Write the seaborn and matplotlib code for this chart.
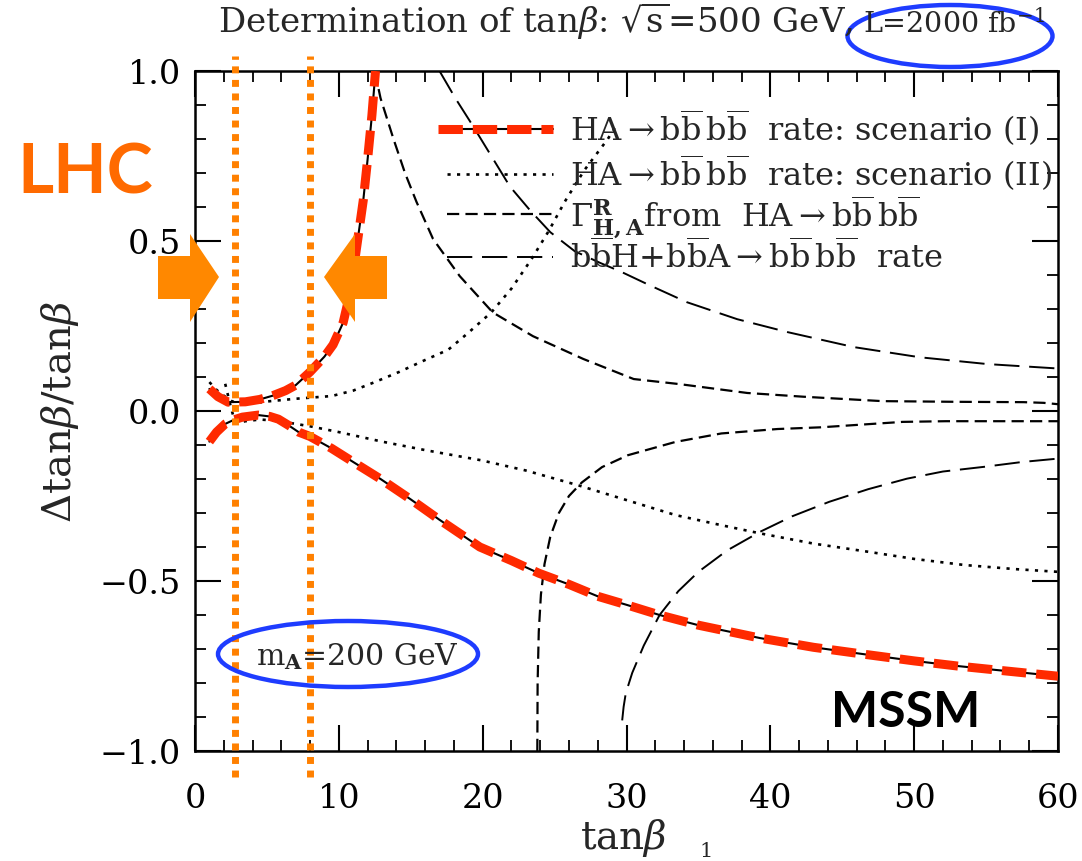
import numpy as np
import matplotlib
matplotlib.use("Agg")
import matplotlib.pyplot as plt
from matplotlib.patches import Polygon, Ellipse
from matplotlib.lines import Line2D
import seaborn as sns

# ---- curves: relative error on tan(beta) versus tan(beta) ----
# HA -> bb bb rate, scenario (I): upper and lower branch
tanb_I_up = [1.0, 1.6, 2.3, 3.5, 4.5, 5.4, 6.3, 7.0, 8.0, 9.0, 9.6, 10.3, 10.8, 11.3, 11.7, 12.0, 12.3, 12.55]
dtb_I_up = [0.065, 0.042, 0.026, 0.027, 0.034, 0.045, 0.06, 0.076, 0.115, 0.16, 0.195, 0.26, 0.35, 0.50, 0.62, 0.74, 0.87, 1.0]
tanb_I_lo = [1.0, 1.5, 2.1, 2.7, 3.3, 4.4, 5.2, 5.8, 6.5, 7.2, 8.0, 9.5, 11.0, 12.9, 15.0, 17.0, 19.8, 22.0,
             23.9, 26.0, 28.0, 30.0, 32.3, 35.0, 39.3, 43.0, 46.8, 50.0, 53.0, 56.0, 60.0]
dtb_I_lo = [-0.09, -0.062, -0.038, -0.026, -0.018, -0.012, -0.016, -0.024, -0.042, -0.062, -0.075, -0.11, -0.15,
            -0.20, -0.26, -0.32, -0.40, -0.44, -0.477, -0.51, -0.545, -0.57, -0.60, -0.63, -0.668, -0.695,
            -0.717, -0.735, -0.75, -0.763, -0.78]

# HA -> bb bb rate, scenario (II)
tanb_II_up = [1.0, 1.5, 2.0, 2.5, 3.0, 4.0, 5.0, 7.0, 9.5, 11.0, 12.5, 14.2, 16.0, 17.6, 19.0, 20.6, 22.0,
              23.4, 24.6, 25.7, 26.5, 27.1, 27.9, 28.7, 29.3]
dtb_II_up = [0.085, 0.062, 0.045, 0.03, 0.022, 0.022, 0.028, 0.036, 0.044, 0.06, 0.085, 0.115, 0.15, 0.18,
             0.23, 0.29, 0.36, 0.447, 0.53, 0.615, 0.67, 0.71, 0.755, 0.80, 0.84]
tanb_II_lo = [2.1, 2.3, 2.5, 2.7, 3.0, 3.5, 4.5, 5.5, 6.6, 8.0, 10.0, 13.0, 16.0, 19.9, 23.0, 26.6, 30.0,
              33.4, 36.5, 39.3, 43.0, 46.8, 50.0, 53.5, 57.0, 60.0]
dtb_II_lo = [0.08, 0.045, 0.01, -0.02, -0.035, -0.03, -0.025, -0.028, -0.035, -0.045, -0.062, -0.09, -0.115,
             -0.145, -0.175, -0.218, -0.262, -0.306, -0.335, -0.36, -0.39, -0.414, -0.435, -0.453, -0.465, -0.473]

# Gamma^R_{H,A} from HA -> bb bb
tanb_G_up = [12.5, 12.9, 13.8, 14.6, 15.4, 16.55, 18.4, 20.7, 23.5, 27.0, 30.5, 33.7, 38.4, 42.3, 47.8, 53.0,
             57.6, 59.0, 60.0]
dtb_G_up = [1.0, 0.92, 0.80, 0.70, 0.615, 0.506, 0.397, 0.29, 0.22, 0.153, 0.094, 0.079, 0.053, 0.042, 0.029,
            0.027, 0.026, 0.024, 0.02]
tanb_G_lo = [23.8, 23.82, 23.9, 24.05, 24.3, 24.7, 25.3, 26.0, 26.9, 28.3, 30.1, 33.4, 36.6, 40.5, 43.5,
             49.2, 52.2, 60.0]
dtb_G_lo = [-1.0, -0.8, -0.65, -0.54, -0.45, -0.37, -0.30, -0.25, -0.21, -0.165, -0.13, -0.091, -0.066,
            -0.053, -0.048, -0.032, -0.03, -0.03]

# bbH + bbA -> bb bb rate
tanb_bb_up = [17.0, 18.1, 19.3, 20.6, 21.9, 23.3, 24.7, 26.4, 28.2, 29.6, 31.6, 34.2, 37.7, 41.2, 45.8, 50.4,
              55.1, 60.0]
dtb_bb_up = [1.0, 0.92, 0.84, 0.75, 0.66, 0.59, 0.526, 0.47, 0.435, 0.41, 0.37, 0.32, 0.27, 0.232, 0.188,
             0.158, 0.138, 0.125]
tanb_bb_lo = [29.7, 29.8, 29.95, 30.4, 31.2, 32.3, 33.6, 35.0, 37.0, 39.3, 41.5, 44.1, 46.8, 49.5, 52.0, 54.9,
              57.5, 60.0]
dtb_bb_lo = [-0.91, -0.87, -0.83, -0.77, -0.69, -0.60, -0.53, -0.473, -0.41, -0.355, -0.31, -0.267, -0.23,
             -0.199, -0.178, -0.164, -0.15, -0.14]

# LHC reach in tan(beta)
lhc_bounds = [2.8, 8.0]

x_ticks = [0, 10, 20, 30, 40, 50, 60]
y_ticks = [-1.0, -0.5, 0.0, 0.5, 1.0]

legend_labels = [
    r"HA$\rightarrow$b$\overline{\mathrm{b}}\,$b$\overline{\mathrm{b}}$  rate: scenario (I)",
    r"HA$\rightarrow$b$\overline{\mathrm{b}}\,$b$\overline{\mathrm{b}}$  rate: scenario (II)",
    r"$\Gamma^{\mathbf{R}}_{\mathbf{H,A}}$from  HA$\rightarrow$b$\overline{\mathrm{b}}\,$b$\overline{\mathrm{b}}$",
    r"b$\overline{\mathrm{b}}$H+b$\overline{\mathrm{b}}$A$\rightarrow$b$\overline{\mathrm{b}}\,$b$\overline{\mathrm{b}}$  rate",
]

# ---- style ----
sns.set_theme(style="ticks")
plt.rcParams["font.family"] = ["DejaVu Serif"]
plt.rcParams["mathtext.fontset"] = "dejavuserif"
plt.rcParams["axes.linewidth"] = 1.8

W, H = 1082, 862
fig = plt.figure(figsize=(W / 100, H / 100), dpi=100)
fig.patch.set_facecolor("white")
ax = fig.add_axes([195 / W, 1 - 752 / H, (1058 - 195) / W, (752 - 72) / H])
ax.set_facecolor("white")


def px(x, y):
    """pixel position (top-left origin) -> figure fraction"""
    return (x / W, 1 - y / H)


RED = "#ff2a00"
ORANGE = "#ff8000"
BLUE = "#1e3cff"

dotted = (0, (1.2, 2.4))
short_dash = (0, (5.5, 2.8))
long_dash = (0, (13, 5))
red_dash = (0, (2.7, 1.1))

# scenario (I): black solid with red dashed overlay
for xs, ys in [(tanb_I_up, dtb_I_up), (tanb_I_lo, dtb_I_lo)]:
    sns.lineplot(x=xs, y=ys, sort=False, estimator=None, color="black", lw=1.5, ax=ax)
    sns.lineplot(x=xs, y=ys, sort=False, estimator=None, color=RED, lw=6.5, ls=red_dash,
                 dash_capstyle="butt", ax=ax, zorder=4)
# scenario (II)
for xs, ys in [(tanb_II_up, dtb_II_up), (tanb_II_lo, dtb_II_lo)]:
    sns.lineplot(x=xs, y=ys, sort=False, estimator=None, color="black", lw=1.9, ls=dotted, ax=ax)
# width from HA -> bbbb
for xs, ys in [(tanb_G_up, dtb_G_up), (tanb_G_lo, dtb_G_lo)]:
    sns.lineplot(x=xs, y=ys, sort=False, estimator=None, color="black", lw=1.6, ls=short_dash, ax=ax)
# bbH + bbA rate
for xs, ys in [(tanb_bb_up, dtb_bb_up), (tanb_bb_lo, dtb_bb_lo)]:
    sns.lineplot(x=xs, y=ys, sort=False, estimator=None, color="black", lw=1.4, ls=long_dash, ax=ax)

# LHC sensitivity bounds
for xb in lhc_bounds:
    ax.axvline(xb, ymin=-0.038, ymax=1.022, clip_on=False, color=ORANGE, lw=5,
               ls=(0, (1.0, 0.95)), dash_capstyle="butt", zorder=5)

ax.set_xlim(0, 60)
ax.set_ylim(-1.0, 1.0)
ax.set_xticks(x_ticks)
ax.set_yticks(y_ticks)
ax.set_xticklabels([str(v) for v in x_ticks])
ax.set_yticklabels([f"{v:.1f}".replace("-", "\u2212") for v in y_ticks])
ax.xaxis.set_minor_locator(matplotlib.ticker.MultipleLocator(2))
ax.yaxis.set_minor_locator(matplotlib.ticker.MultipleLocator(0.1))
ax.tick_params(which="both", direction="in", top=True, right=True, colors="black")
ax.tick_params(which="major", length=19, width=1.5, labelsize=24)
ax.tick_params(which="minor", length=8, width=1.3)
ax.tick_params(axis="x", which="major", pad=22)
ax.tick_params(axis="y", which="major", pad=10)
for s in ax.spines.values():
    s.set_color("black")
    s.set_linewidth(1.8)
ax.set_xlabel("")
ax.set_ylabel("")

# axis titles
fig.text(*px(623, 838), r"tan$\beta$", fontsize=28, ha="center", va="center")
fig.text(*px(60, 412), r"$\Delta$tan$\beta$/tan$\beta$", fontsize=29, ha="center", va="center", rotation=90)
fig.text(*px(706, 861), "1", fontsize=15, ha="center", va="bottom")

# title, in two pieces so the luminosity sits inside its ellipse
fig.text(*px(853, 33), r"Determination of tan$\beta$: $\sqrt{\mathrm{s}}$=500 GeV,",
         fontsize=24.5, ha="right", va="baseline")
fig.text(*px(863, 33), r"L=2000 fb$^{-1}$", fontsize=20.5, ha="left", va="baseline")

# legend
rows = [130, 175, 215, 258]
for i, (yr, lab) in enumerate(zip(rows, legend_labels)):
    x0, y0 = px(447, yr)
    x1, _ = px(553, yr)
    if i == 0:
        fig.add_artist(Line2D([x0, x1], [y0, y0], color="black", lw=1.5, transform=fig.transFigure))
        fig.add_artist(Line2D([x0 - 0.008, x1], [y0, y0], color=RED, lw=6.5, ls=red_dash,
                              dash_capstyle="butt", transform=fig.transFigure))
    elif i == 1:
        fig.add_artist(Line2D([x0, x1], [y0, y0], color="black", lw=1.9, ls=dotted, transform=fig.transFigure))
    elif i == 2:
        fig.add_artist(Line2D([x0, x1], [y0, y0], color="black", lw=1.6, ls=short_dash, transform=fig.transFigure))
    else:
        fig.add_artist(Line2D([x0, x1], [y0, y0], color="black", lw=1.4, ls=long_dash, transform=fig.transFigure))
    fig.text(*px(570, yr + 11), lab, fontsize=23, ha="left", va="baseline")

# mass label
fig.text(*px(256, 665), r"m$_{\mathbf{A}}$=200 GeV", fontsize=21.5, ha="left", va="baseline")

# highlight ellipses
fig.add_artist(Ellipse(px(950, 37), 205 / W, 62 / H, fill=False, ec=BLUE, lw=3.2, transform=fig.transFigure))
fig.add_artist(Ellipse(px(348, 655), 260 / W, 66 / H, fill=False, ec=BLUE, lw=3.2, transform=fig.transFigure))

# LHC arrows
ARROW = "#ff8800"
left_arrow = [(158, 257), (190, 257), (190, 235), (219, 278), (190, 323), (190, 300), (158, 300)]
right_arrow = [(387, 257), (355, 257), (355, 235), (324, 278), (355, 323), (355, 300), (387, 300)]
for pts in (left_arrow, right_arrow):
    fig.add_artist(Polygon([px(*p) for p in pts], closed=True, fc=ARROW, ec="none",
                           transform=fig.transFigure, zorder=6))

fig.text(*px(17, 193), "LHC", fontsize=50, fontfamily="Lato", fontweight="bold", color="#ff6a00",
         ha="left", va="baseline")
fig.text(*px(831, 727), "MSSM", fontsize=36, fontfamily="Lato", fontweight="bold", color="black",
         ha="left", va="baseline")

fig.savefig("out.png", dpi=100)
